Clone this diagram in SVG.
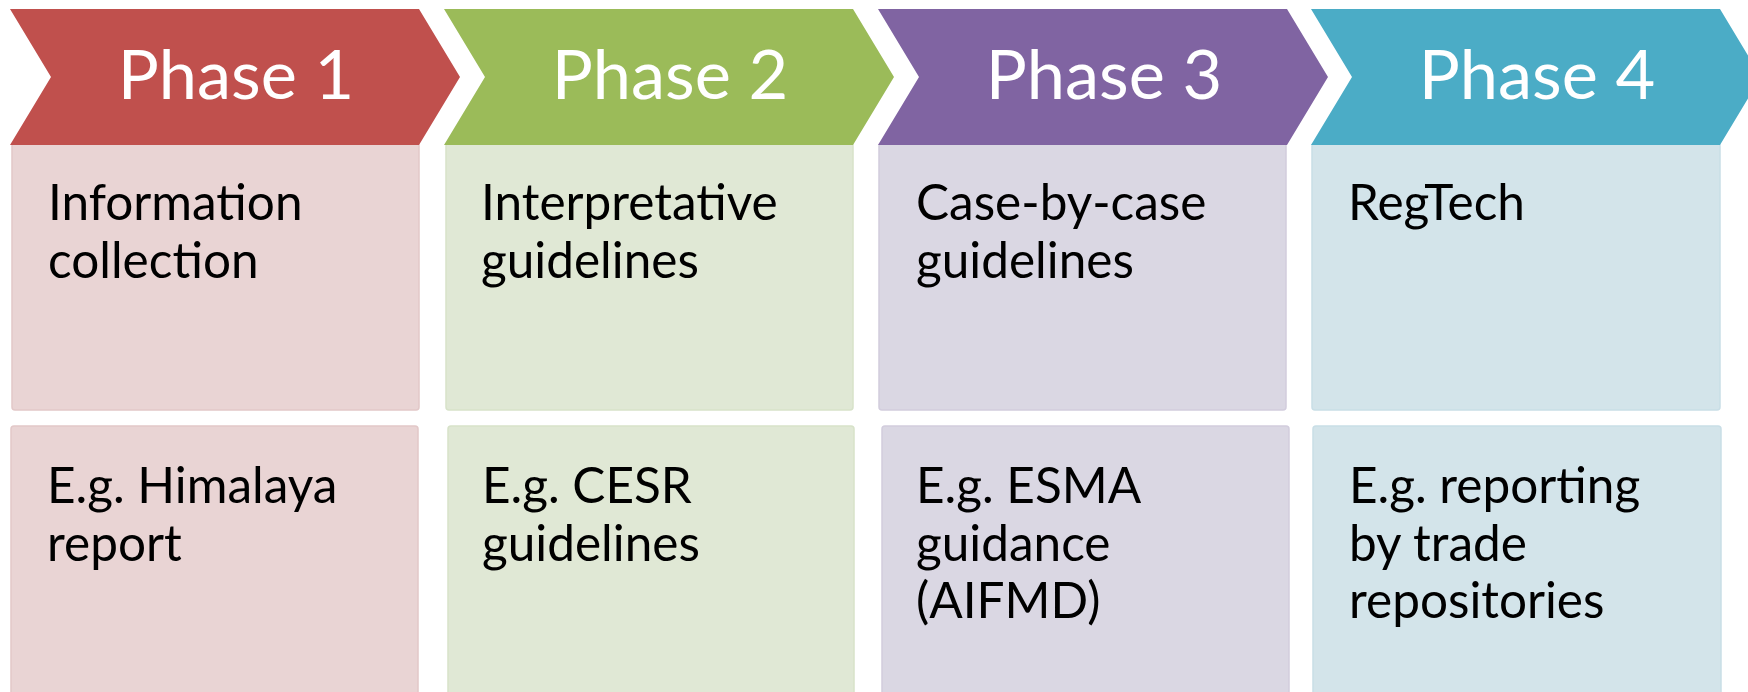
<svg xmlns="http://www.w3.org/2000/svg" width="1748" height="692" viewBox="0 0 1748 692">
<defs>
<style>
.ph{font-family:Lato,"Open Sans","Liberation Sans",sans-serif;font-size:68.5px;fill:#ffffff;text-anchor:middle}
.tx{font-family:Lato,"Open Sans","Liberation Sans",sans-serif;font-size:49.5px;fill:#000000}
.c1{fill:#C0504D}.c2{fill:#9BBB59}.c3{fill:#8064A2}.c4{fill:#4BACC6}
.b1{fill:#E9D4D4;stroke:#E2C8C8;stroke-width:1.5}
.b2{fill:#E0E8D5;stroke:#D7E2C9;stroke-width:1.5}
.b3{fill:#DAD7E3;stroke:#D2CDDD;stroke-width:1.5}
.b4{fill:#D3E4EA;stroke:#C9DEE6;stroke-width:1.5}
</style>
<path id="chev" d="M0,9 L409,9 L450,77 L409,145 L0,145 L41,77 Z"/>
</defs>
<rect width="1748" height="692" fill="#ffffff"/>

<g id="phase1">
<rect class="b1" x="12" y="143" width="407" height="267" rx="3"/>
<use href="#chev" x="10" class="c1"/>
<text class="ph" x="236" y="99">Phase 1</text>
<text class="tx" x="48" y="220">Information</text>
<text class="tx" x="48" y="278">collection</text>
</g>
<g id="example1">
<rect class="b1" x="11" y="426" width="407" height="275" rx="3"/>
<text class="tx" x="47" y="503">E.g. Himalaya</text>
<text class="tx" x="47" y="561">report</text>
</g>

<g id="phase2">
<rect class="b2" x="446" y="143" width="407" height="267" rx="3"/>
<use href="#chev" x="444" class="c2"/>
<text class="ph" x="670" y="99">Phase 2</text>
<text class="tx" x="481" y="220">Interpretative</text>
<text class="tx" x="481" y="278">guidelines</text>
</g>
<g id="example2">
<rect class="b2" x="448" y="426" width="406" height="275" rx="3"/>
<text class="tx" x="482" y="503">E.g. CESR</text>
<text class="tx" x="482" y="561">guidelines</text>
</g>

<g id="phase3">
<rect class="b3" x="879" y="143" width="407" height="267" rx="3"/>
<use href="#chev" x="878" class="c3"/>
<text class="ph" x="1104" y="99">Phase 3</text>
<text class="tx" x="916" y="220">Case-by-case</text>
<text class="tx" x="916" y="278">guidelines</text>
</g>
<g id="example3">
<rect class="b3" x="882" y="426" width="407" height="275" rx="3"/>
<text class="tx" x="916" y="503">E.g. ESMA</text>
<text class="tx" x="916" y="561">guidance</text>
<text class="tx" x="916" y="618">(AIFMD)</text>
</g>

<g id="phase4">
<rect class="b4" x="1312" y="143" width="408" height="267" rx="3"/>
<use href="#chev" x="1311" class="c4"/>
<text class="ph" x="1537" y="99">Phase 4</text>
<text class="tx" x="1348" y="220">RegTech</text>
</g>
<g id="example4">
<rect class="b4" x="1313" y="426" width="408" height="275" rx="3"/>
<text class="tx" x="1349" y="503">E.g. reporting</text>
<text class="tx" x="1349" y="561">by trade</text>
<text class="tx" x="1349" y="618">repositories</text>
</g>
</svg>
